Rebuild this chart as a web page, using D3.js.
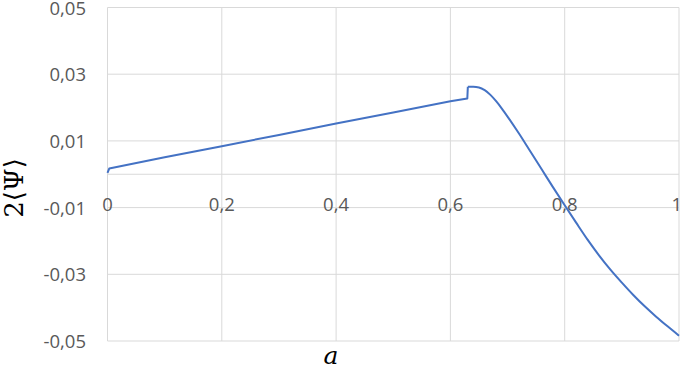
<!DOCTYPE html>
<html>
<head>
<meta charset="utf-8">
<script src="https://cdn.jsdelivr.net/npm/d3@7"></script>
<style>
  body { margin: 0; background: #fff; }
  svg { display: block; }
</style>
</head>
<body>
<svg id="chart"></svg>
<script>
// values: rising straight part, then the drop after the jump
var riseA = [0, 0.003, 0.1, 0.2, 0.3, 0.4, 0.5, 0.6, 0.6296, 0.6305];
var risePsi = [0.0004, 0.0017, 0.0051, 0.0084, 0.0118, 0.0152, 0.0185, 0.0219, 0.0227, 0.0262];
var fallA = [0.6305, 0.64, 0.65, 0.66, 0.67, 0.68, 0.69, 0.70, 0.72, 0.74, 0.76, 0.78, 0.80, 0.82, 0.84, 0.86, 0.88, 0.90, 0.92, 0.94, 0.96, 0.98, 1.00];
var fallPsi = [0.0262, 0.0262, 0.0260, 0.0252, 0.0238, 0.0219, 0.0197, 0.0173, 0.0122, 0.0068, 0.0014, -0.0040, -0.0093, -0.0145, -0.0196, -0.0243, -0.0286, -0.0325, -0.0362, -0.0396, -0.0427, -0.0456, -0.0484];
var xTicks = [0, 0.2, 0.4, 0.6, 0.8, 1];
var yTicks = [-0.05, -0.03, -0.01, 0.01, 0.03, 0.05];

var width = 685, height = 371;
var svg = d3.select("#chart").attr("width", width).attr("height", height);

var x = d3.scaleLinear().domain([0, 1]).range([107.5, 679]);
var y = d3.scaleLinear().domain([-0.05, 0.05]).range([341, 7.5]);

var fmt = function(d) { return d3.format(".2f")(d).replace(".", ",").replace("\u2212", "-"); };
var fmtX = function(d) { return d === 0 ? "0" : d === 1 ? "1" : d3.format(".1f")(d).replace(".", ","); };

// gridlines
svg.append("g")
  .selectAll("line")
  .data(yTicks)
  .enter()
  .append("line")
    .attr("x1", x(0)).attr("x2", x(1))
    .attr("y1", function(d) { return y(d); })
    .attr("y2", function(d) { return y(d); })
    .attr("stroke", "#d9d9d9").attr("stroke-width", 1);

svg.append("g")
  .selectAll("line")
  .data(xTicks)
  .enter()
  .append("line")
    .attr("x1", function(d) { return x(d); })
    .attr("x2", function(d) { return x(d); })
    .attr("y1", y(0.05)).attr("y2", y(-0.05))
    .attr("stroke", "#d9d9d9").attr("stroke-width", 1);

// axis line at zero
svg.append("line")
  .attr("x1", x(0)).attr("x2", x(1))
  .attr("y1", y(0)).attr("y2", y(0))
  .attr("stroke", "#d9d9d9").attr("stroke-width", 1);

// y tick labels
svg.append("g")
  .selectAll("text")
  .data(yTicks)
  .enter()
  .append("text")
    .attr("x", 86)
    .attr("y", function(d) { return y(d) + 7; })
    .attr("text-anchor", "end")
    .attr("font-family", "Open Sans, sans-serif")
    .attr("font-size", 18.5)
    .attr("fill", "#595959")
    .text(fmt);

// x tick labels
svg.append("g")
  .selectAll("text")
  .data(xTicks)
  .enter()
  .append("text")
    .attr("x", function(d) { return x(d); })
    .attr("y", 211)
    .attr("text-anchor", function(d) { return d === 1 ? "end" : "middle"; })
    .attr("dx", function(d) { return d === 1 ? 3 : 0; })
    .attr("font-family", "Open Sans, sans-serif")
    .attr("font-size", 18.5)
    .attr("fill", "#595959")
    .text(fmtX);

// series
var line = function(curve) {
  return d3.line()
    .x(function(d) { return x(d[0]); })
    .y(function(d) { return y(d[1]); })
    .curve(curve);
};
var rise = riseA.map(function(a, i) { return [a, risePsi[i]]; });
var fall = fallA.map(function(a, i) { return [a, fallPsi[i]]; });

svg.append("path")
  .datum(rise)
  .attr("fill", "none")
  .attr("stroke", "#4472c4")
  .attr("stroke-width", 2)
  .attr("stroke-linejoin", "round")
  .attr("d", line(d3.curveLinear));

svg.append("path")
  .datum(fall)
  .attr("fill", "none")
  .attr("stroke", "#4472c4")
  .attr("stroke-width", 2)
  .attr("stroke-linejoin", "round")
  .attr("d", line(d3.curveMonotoneX));

// axis titles
svg.append("text")
  .attr("transform", "translate(23,188) rotate(-90)")
  .attr("text-anchor", "middle")
  .attr("font-family", "DejaVu Serif, serif")
  .attr("font-size", 26)
  .attr("fill", "#000")
  .text("2\u27E8\u03A8\u27E9");

svg.append("text")
  .attr("x", 331)
  .attr("y", 364)
  .attr("text-anchor", "middle")
  .attr("font-family", "DejaVu Serif, serif")
  .attr("font-style", "italic")
  .attr("font-size", 25)
  .attr("fill", "#000")
  .text("a");
</script>
</body>
</html>
